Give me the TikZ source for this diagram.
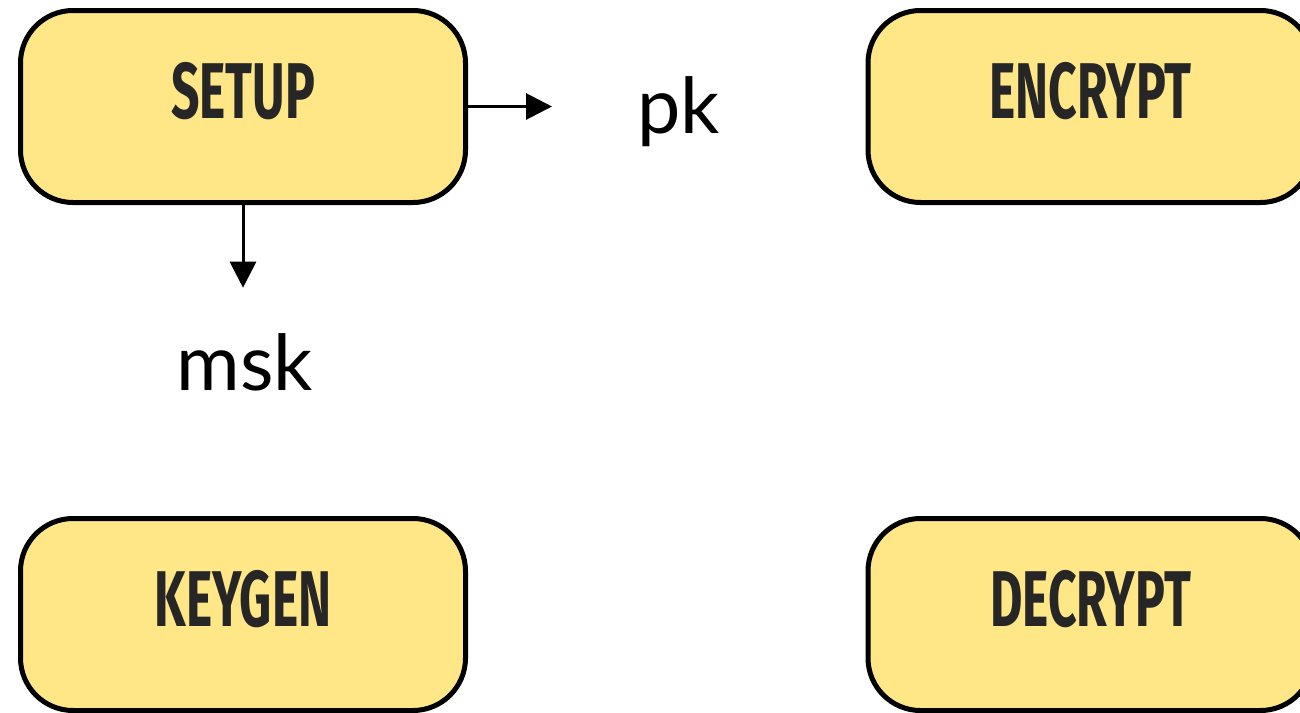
\documentclass[tikz,border=0pt]{standalone}
\usepackage{fontspec}
\usetikzlibrary{positioning, arrows.meta}

\newfontfamily\boxfont[FakeStretch=0.63]{Fira Sans}
\newfontfamily\labelfont{Lato}
\definecolor{boxyellow}{HTML}{FFE788}
\definecolor{boxtext}{HTML}{262626}

\begin{document}
\begin{tikzpicture}[x = 1cm, y = 1cm,
    algo/.style = {draw, line width = 0.1cm, fill = boxyellow, rounded corners = 1.05cm,
      minimum width = 8.9cm, minimum height = 3.84cm, text = boxtext,
      text height = 1.1cm, text depth = 0.64cm,	% 文字を少し上に
      font = \boxfont\bfseries\fontsize{45}{50}\selectfont},
    keylabel/.style = {inner sep = 0pt, font = \labelfont\fontsize{44}{48}\selectfont},
    arr/.style = {line width = 0.06cm, -{Triangle[length = 0.52cm, width = 0.52cm]}}]

  % 画像の大きさ (26cm x 14.26cm)
  \useasboundingbox (0, 0) rectangle (26, -14.26);

  % アルゴリズムの箱
  \node [algo] (setup) at (4.86, -2.13) {SETUP};
  \node [algo, right = 7.95cm of setup] (encrypt) {ENCRYPT};
  \node [algo, below = 6.22cm of setup] (keygen) {KEYGEN};
  \node [algo, below = 6.22cm of encrypt] (decrypt) {DECRYPT};

  % 鍵
  \node [keylabel, anchor = base west] (pk) at (12.74, -2.66) {pk};
  \node [keylabel, anchor = base] (msk) at (4.9, -7.8) {msk};

  % 矢印
  \draw [arr, shorten > = 1.7cm] (setup.east) -- (setup.east -| pk.west);
  \draw [arr, shorten > = 0.9cm] (setup.south) -- (setup.south |- msk.north);

\end{tikzpicture}
\end{document}
